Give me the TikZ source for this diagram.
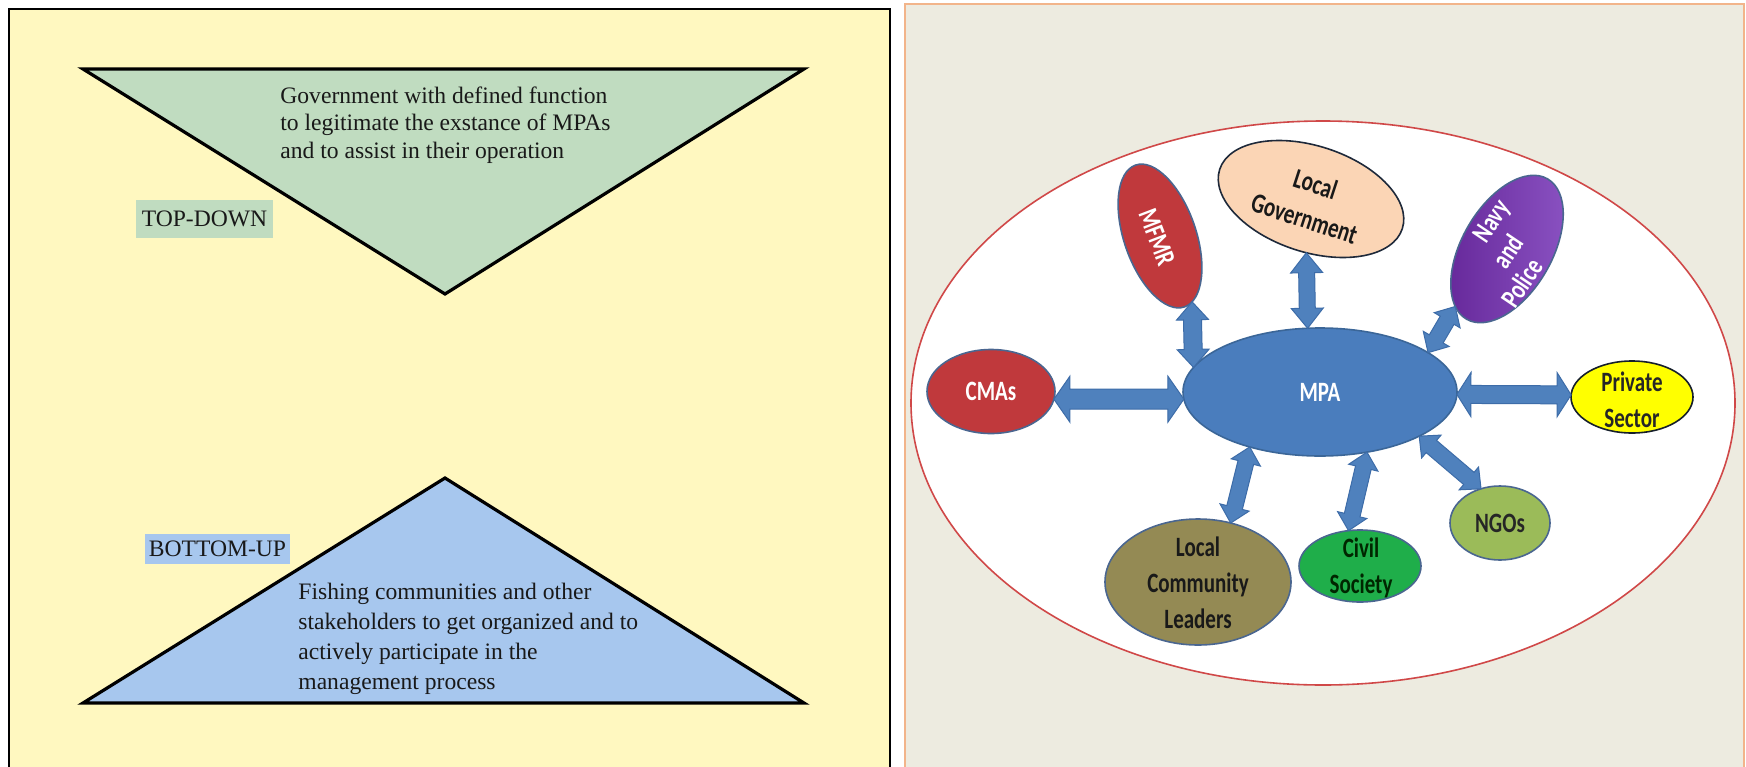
\documentclass[tikz,border=0pt]{standalone}
\usepackage{fontspec}
\setmainfont{Liberation Serif}
\newfontfamily\calb[FakeStretch=0.75]{Carlito}
\usetikzlibrary{shapes.geometric,calc}
\definecolor{lbg}{HTML}{FFF8C0}
\definecolor{rbg}{HTML}{EDEBE0}
\definecolor{orng}{HTML}{F2B48A}
\definecolor{tgreen}{HTML}{C0DCC0}
\definecolor{tblue}{HTML}{A7C7EE}
\definecolor{ered}{HTML}{D04848}
\definecolor{mpablue}{HTML}{4A7DBD}
\definecolor{mpaedge}{HTML}{3B6698}
\definecolor{arrblue}{HTML}{4F81BD}
\definecolor{arredge}{HTML}{3D6CA8}
\definecolor{cred}{HTML}{C0393C}
\definecolor{peach}{HTML}{FBD5B5}
\definecolor{purp}{HTML}{7334A6}
\definecolor{purpdark}{HTML}{66289A}
\definecolor{purplight}{HTML}{8A52C2}
\definecolor{yel}{HTML}{FFFF00}
\definecolor{ngog}{HTML}{9BBB59}
\definecolor{civg}{HTML}{1FAE4A}
\definecolor{olive}{HTML}{948A54}
\definecolor{edgeb}{HTML}{4A6690}
\newcommand{\dblarr}[5]{%
  \draw[arr] (#1) -- ($(#1)!#5!(#2)!#4!90:(#2)$) -- ($(#1)!#5!(#2)!#3!90:(#2)$)
    -- ($(#2)!#5!(#1)!#3!-90:(#1)$) -- ($(#2)!#5!(#1)!#4!-90:(#1)$) -- (#2)
    -- ($(#2)!#5!(#1)!#4!90:(#1)$) -- ($(#2)!#5!(#1)!#3!90:(#1)$)
    -- ($(#1)!#5!(#2)!#3!-90:(#2)$) -- ($(#1)!#5!(#2)!#4!-90:(#2)$) -- cycle;}
\begin{document}
\begin{tikzpicture}[x=0.5pt,y=-0.5pt,
  tri/.style={draw=black,line width=1.6pt,line join=miter},
  serif/.style={font=\fontsize{11.8}{14}\selectfont,inner sep=0,text=black!90},
  ell/.style={ellipse,draw=edgeb,line width=0.8pt,inner sep=0,outer sep=0},
  lab/.style={font=\calb\bfseries\fontsize{14}{18}\selectfont,align=center,inner sep=0},
  arr/.style={fill=arrblue,draw=arredge,line width=0.5pt,line join=miter}]
\useasboundingbox (0,0) rectangle (1746,766);
\fill[white] (0,0) rectangle (1746,766);
% left panel
\draw[line width=1.1pt,fill=lbg] (9,9) rectangle (890,800);
\draw[tri,fill=tgreen] (83,69) -- (804,69) -- (445,294) -- cycle;
\draw[tri,fill=tblue] (445,478) -- (804,703) -- (83,703) -- cycle;
\node[serif] (g1) at (280,103) [anchor=base west] {Government with defined function};
\node[serif] (g2) at (280,130.5) [anchor=base west] {to legitimate the exstance of MPAs};
\node[serif] (g3) at (280,158) [anchor=base west] {and to assist in their operation};
\node[serif,fill=tgreen,minimum width=68.5pt,minimum height=19pt] (td) at (204.5,219) {TOP-DOWN};
\node[serif,fill=tblue,minimum width=72.5pt,minimum height=15pt] (bu) at (217.5,549) {BOTTOM-UP};
\node[serif] (f1) at (298,599) [anchor=base west] {Fishing communities and other};
\node[serif] (f2) at (298,629) [anchor=base west] {stakeholders to get organized and to};
\node[serif] (f3) at (298,659) [anchor=base west] {actively participate in the};
\node[serif] (f4) at (298,689) [anchor=base west] {management process};
% right panel
\draw[line width=1.3pt,draw=orng,fill=rbg] (905,4) rectangle (1744,800);
\node[ellipse,draw=ered,line width=0.8pt,fill=white,inner sep=0,minimum width=412pt,minimum height=282pt] (big) at (1323,403) {};
\node[ell,fill=mpablue,draw=mpaedge,minimum width=137pt,minimum height=64pt] (mpa) at (1320,392) {};
\node[ell,fill=cred,minimum width=64pt,minimum height=42pt] (cma) at (991,391.5) {};
\node[ell,fill=yel,draw=black!70!edgeb,minimum width=61pt,minimum height=36pt] (priv) at (1632,397) {};
\node[ell,fill=ngog,minimum width=50pt,minimum height=37pt] (ngo) at (1500,523) {};
\node[ell,fill=civg,minimum width=61pt,minimum height=36pt] (civ) at (1360,566) {};
\node[ell,fill=olive,minimum width=93pt,minimum height=63pt] (lcl) at (1198,582) {};
\node[ell,fill=cred,rotate=-71,minimum width=75pt,minimum height=36pt] (mfmr) at (1160,236) {};
\node[ell,fill=peach,draw=black!60!edgeb,rotate=-18,minimum width=96pt,minimum height=53pt] (lg) at (1311,199) {};
\node[ell,left color=purpdark,right color=purplight,rotate=60,minimum width=81pt,minimum height=45pt] (navy) at (1507,249) {};
% labels
\node[lab,text=white] (mpaT) at (mpa) {MPA};
\node[lab,text=white] (cmaT) at (cma) {CMAs};
\node[lab,text=black!85] (privT) at (1632,400) {Private\\Sector};
\node[lab,text=black!85] (ngoT) at (ngo) {NGOs};
\node[lab,text=black!85!green] (civT) at (1361,568) {Civil\\Society};
\node[lab,text=black!90] (lclT) at (1198,583) {Local\\Community\\Leaders};
\node[lab,text=white,rotate=-69] (mfmrT) at (1157,237) {MFMR};
\node[lab,text=black!90,rotate=-18] (lgT) at (1310,201) {Local\\Government};
\node[lab,text=white,rotate=56] (navyT1) at (1493,222) {Navy};
\node[lab,text=white,rotate=56] (navyT2) at (1508,251) {and};
\node[lab,text=white,rotate=56] (navyT3) at (1522,283) {Police};
% arrows
\dblarr{cma.353}{mpa.183}{5pt}{11.5pt}{8pt}
\dblarr{mfmr.7}{mpa.169}{4.5pt}{8pt}{9pt}
\dblarr{lg.283}{mpa.101}{4pt}{8pt}{10pt}
\dblarr{navy.168}{mpa.20}{4pt}{7.5pt}{8pt}
\dblarr{mpa.359}{priv.178}{4.5pt}{11pt}{7pt}
\dblarr{mpa.336}{ngo.119}{4pt}{7.5pt}{8pt}
\dblarr{mpa.218}{lcl.61}{4pt}{7.5pt}{8pt}
\dblarr{mpa.308}{civ.108}{4pt}{7.5pt}{8pt}
\end{tikzpicture}
\end{document}
